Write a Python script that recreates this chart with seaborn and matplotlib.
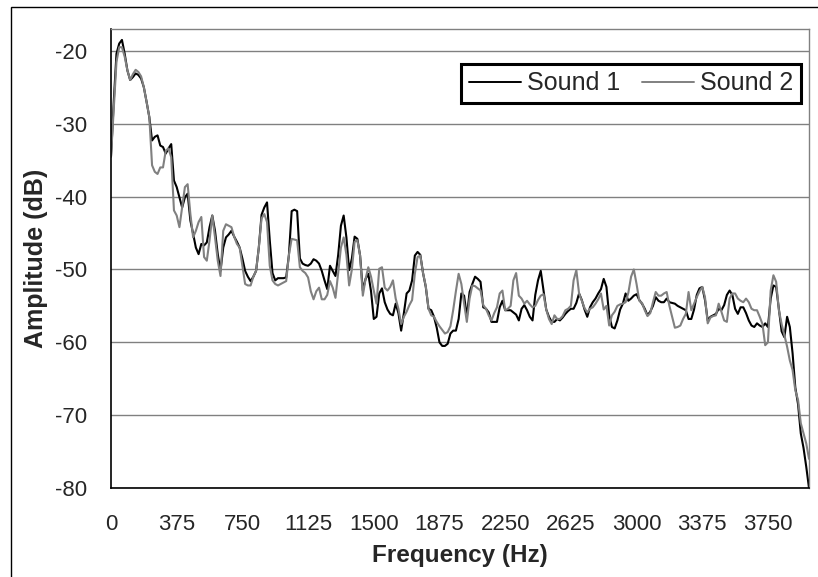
import numpy as np
import pandas as pd
import matplotlib
matplotlib.use('Agg')
import matplotlib.pyplot as plt
import seaborn as sns
from matplotlib.patches import Rectangle

# ── Data (one FFT bin = 15.625 Hz) ────────────────────────────────
BIN_HZ = 15.625

sound_1 = [
    -34.5, -27.0, -20.4, -19.0, -18.5, -20.4, -22.7, -24.0, -23.6, -23.1,
    -23.3, -23.8, -25.0, -27.0, -29.1, -32.3, -31.8, -31.6, -33.0, -33.2,
    -34.1, -33.4, -32.8, -37.8, -38.7, -40.1, -41.5, -40.1, -39.6, -43.3,
    -45.1, -47.0, -47.9, -46.5, -46.7, -46.3, -44.2, -42.6, -44.7, -47.9,
    -50.2, -47.0, -45.6, -45.2, -44.7, -45.5, -46.2, -47.0, -48.5, -50.2,
    -51.0, -51.6, -51.0, -50.2, -47.0, -42.5, -41.5, -40.8, -46.0, -50.5,
    -51.5, -51.2, -51.2, -51.2, -51.1, -48.0, -42.0, -41.8, -42.0, -48.5,
    -49.2, -49.4, -49.5, -49.2, -48.6, -48.8, -49.2, -50.2, -51.5, -52.7,
    -49.5, -50.2, -50.9, -48.0, -44.0, -42.6, -45.6, -50.1, -48.5, -45.5,
    -45.8, -48.1, -52.9, -51.3, -50.6, -53.0, -56.8, -56.5, -53.3, -52.6,
    -54.5, -55.5, -56.1, -56.3, -54.7, -56.0, -58.4, -56.0, -53.3, -52.9,
    -51.5, -48.1, -47.6, -48.0, -50.5, -52.4, -55.4, -55.6, -56.5, -58.0,
    -60.0, -60.5, -60.5, -60.2, -58.8, -58.4, -58.4, -56.8, -53.3, -53.6,
    -56.5, -53.1, -52.0, -51.0, -51.3, -51.7, -55.2, -55.4, -55.9, -57.2,
    -57.2, -57.2, -55.2, -54.3, -55.6, -55.6, -55.6, -55.9, -56.2, -57.0,
    -55.4, -54.9, -55.6, -56.5, -57.0, -53.5, -51.5, -50.2, -52.9, -55.5,
    -56.5, -57.2, -57.2, -56.8, -57.0, -56.6, -56.1, -55.7, -55.4, -55.4,
    -54.6, -53.3, -54.2, -55.5, -56.5, -55.2, -54.5, -54.0, -53.3, -52.7,
    -51.3, -52.4, -56.3, -57.9, -58.1, -57.0, -55.5, -54.7, -53.3, -54.3,
    -54.0, -53.6, -53.4, -54.2, -54.7, -55.4, -56.3, -55.8, -55.0, -53.8,
    -54.3, -54.5, -54.5, -54.0, -54.5, -54.6, -54.7, -55.0, -55.2, -55.4,
    -55.6, -56.8, -56.8, -55.5, -53.5, -52.6, -52.4, -54.2, -57.0, -56.5,
    -56.3, -56.1, -55.4, -55.6, -54.9, -53.5, -52.9, -53.5, -55.4, -56.1,
    -55.2, -55.2, -56.0, -57.0, -57.7, -57.9, -57.4, -57.7, -57.9, -57.4,
    -57.9, -54.0, -52.2, -52.4, -55.5, -58.5, -59.3, -56.5, -57.9, -61.5,
    -66.2, -68.5, -72.5, -74.5, -77.1, -80.0,
]

sound_2 = [
    -34.5, -28.0, -21.5, -19.5, -19.5, -20.8, -22.7, -24.0, -23.2, -22.6,
    -22.9, -23.5, -25.0, -27.0, -29.1, -35.7, -36.6, -36.9, -36.0, -36.0,
    -33.7, -33.4, -34.6, -41.9, -42.6, -44.2, -41.5, -38.7, -38.3, -42.4,
    -45.6, -44.7, -43.5, -42.8, -48.3, -48.8, -46.0, -42.6, -45.6, -48.8,
    -50.9, -44.7, -43.8, -44.0, -44.2, -45.5, -46.5, -47.0, -49.5, -52.0,
    -52.2, -52.2, -51.0, -50.2, -47.0, -43.0, -42.4, -43.5, -49.5, -51.5,
    -52.0, -52.2, -52.0, -51.8, -51.6, -48.0, -45.8, -45.9, -46.0, -49.7,
    -50.2, -50.5, -51.1, -53.0, -54.1, -53.0, -52.5, -54.1, -54.1, -53.5,
    -51.6, -52.5, -53.9, -50.5, -47.0, -45.6, -48.0, -52.2, -50.0, -46.2,
    -46.0, -48.1, -53.6, -51.3, -49.7, -51.0, -52.9, -54.7, -49.9, -49.7,
    -52.5, -52.9, -52.4, -51.5, -54.0, -55.4, -57.5, -56.5, -55.8, -54.9,
    -54.2, -50.6, -48.3, -48.1, -50.5, -52.3, -55.4, -56.3, -56.5, -57.2,
    -57.8, -58.3, -58.8, -58.6, -57.8, -55.6, -53.0, -50.6, -52.0, -54.7,
    -57.2, -54.0, -52.2, -52.3, -52.6, -52.9, -54.9, -55.4, -56.3, -57.0,
    -56.0, -55.2, -53.3, -52.9, -55.6, -55.4, -55.0, -51.5, -50.5, -53.6,
    -54.0, -54.7, -54.3, -54.8, -55.2, -55.0, -54.2, -53.6, -53.4, -55.5,
    -56.8, -57.5, -56.3, -56.8, -56.8, -56.4, -55.6, -55.4, -55.0, -51.5,
    -50.1, -53.3, -54.3, -55.3, -55.9, -55.4, -55.2, -54.7, -54.1, -53.3,
    -55.5, -55.0, -57.7, -56.3, -55.8, -55.0, -54.8, -54.7, -54.5, -53.2,
    -51.0, -50.0, -52.0, -54.3, -54.6, -55.6, -56.4, -56.0, -54.5, -53.1,
    -53.6, -53.6, -53.3, -53.1, -55.0, -56.5, -58.0, -57.9, -57.7, -56.8,
    -56.1, -53.1, -55.6, -54.7, -53.8, -53.0, -52.4, -53.8, -57.4, -56.6,
    -56.4, -56.3, -54.7, -55.8, -57.0, -57.2, -54.0, -53.3, -53.3, -54.0,
    -54.3, -54.5, -54.0, -54.5, -55.4, -55.6, -55.6, -56.5, -57.5, -60.4,
    -60.0, -52.9, -50.8, -51.7, -55.6, -57.5, -59.0, -60.6, -62.5, -63.8,
    -66.6, -67.9, -71.1, -72.5, -73.9, -76.0,
]

series_names = ["Sound 1", "Sound 2"]
series_colors = ["#000000", "#808080"]
y_ticks = [-80, -70, -60, -50, -40, -30, -20]
x_label_ticks = [0, 375, 750, 1125, 1500, 1875, 2250, 2625, 3000, 3375, 3750]

freq = np.arange(len(sound_1)) * BIN_HZ
df = pd.DataFrame({
    "freq": np.concatenate([freq, freq]),
    "amp": np.concatenate([sound_1, sound_2]),
    "series": [series_names[0]] * len(sound_1) + [series_names[1]] * len(sound_2),
})

# ── Style ─────────────────────────────────────────────────────────
sns.set_style("white")
plt.rcParams['font.family'] = ['Liberation Sans', 'DejaVu Sans']

fig = plt.figure(figsize=(8.18, 5.77), dpi=100)
ax = fig.add_axes([111 / 818, 1 - 488 / 577, 698 / 818, 459 / 577])

# outer chart-area border (cropped on right/bottom in the reference)
fig.patches.append(Rectangle((11 / 818, -0.1), 1.2, 1 - 7 / 577 + 0.1,
                             transform=fig.transFigure, fill=False,
                             edgecolor="black", linewidth=1.0))

sns.lineplot(data=df, x="freq", y="amp", hue="series",
             palette=dict(zip(series_names, series_colors)),
             linewidth=1.5, ax=ax)

ax.set_xlim(0, freq[-1])
ax.set_ylim(-80, -17)

ax.set_yticks(y_ticks)
ax.set_yticklabels([str(v) for v in y_ticks], fontsize=16)
ax.yaxis.grid(True, color="#808080", linewidth=1.0)
ax.set_axisbelow(True)

ax.set_xticks(x_label_ticks)
ax.set_xticklabels([str(v) for v in x_label_ticks], fontsize=16)
ax.set_xticks(np.arange(0, freq[-1], 62.5), minor=True)
ax.tick_params(axis="x", which="major", length=0, pad=19)
ax.tick_params(axis="x", which="minor", length=7, width=1, color="black",
               direction="out")
ax.tick_params(axis="y", length=8, width=1, color="black", direction="out", pad=9)

for side in ["left", "bottom"]:
    ax.spines[side].set_color("black")
    ax.spines[side].set_linewidth(1.2)
for side in ["top", "right"]:
    ax.spines[side].set_color("#808080")
    ax.spines[side].set_linewidth(1.0)

ax.set_xlabel("Frequency (Hz)", fontsize=17.5, fontweight="bold", labelpad=6)
ax.set_ylabel("Amplitude (dB)", fontsize=18, fontweight="bold", labelpad=5)

leg = ax.legend(loc="upper right", bbox_to_anchor=(0.9885, 0.924), ncol=2,
                fontsize=18, frameon=True, fancybox=False, framealpha=1,
                handlelength=2.1, handletextpad=0.24, columnspacing=0.85,
                borderpad=0.3, borderaxespad=0)
leg.get_frame().set_edgecolor("black")
leg.get_frame().set_linewidth(2.2)
for line in leg.get_lines():
    line.set_linewidth(1.4)

fig.savefig("out.png", dpi=100)
